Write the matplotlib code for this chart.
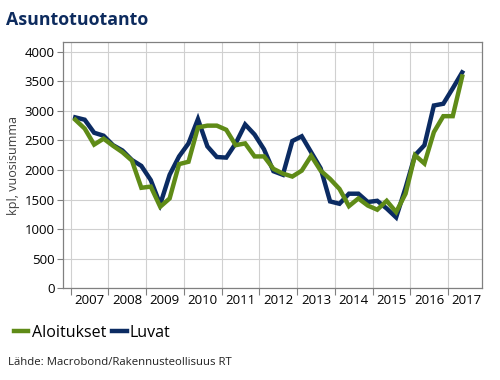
"""
Asuntotuotanto: aloitukset ja luvat, vuosisumma neljännesvuosittain 2007-2017.
"""

import matplotlib.pyplot as plt

# neljännesvuodet 2007Q1 .. 2017Q2
quarters = [f"{y}Q{q}" for y in range(2007, 2018) for q in (1, 2, 3, 4)][:42]

aloitukset = [
    2850, 2700, 2430, 2530, 2410, 2300, 2160, 1700, 1720, 1380,
    1520, 2100, 2140, 2720, 2750, 2750, 2680, 2420, 2450, 2230,
    2230, 2020, 1940, 1890, 1990, 2240, 1990, 1850, 1680, 1390,
    1520, 1400, 1330, 1480, 1290, 1600, 2250, 2110, 2640, 2910,
    2910, 3580,
]
luvat = [
    2890, 2850, 2630, 2580, 2420, 2330, 2170, 2070, 1830, 1420,
    1920, 2230, 2450, 2860, 2400, 2220, 2210, 2450, 2770, 2600,
    2350, 1980, 1920, 2490, 2570, 2300, 2030, 1470, 1430, 1600,
    1600, 1460, 1480, 1350, 1200, 1700, 2250, 2420, 3090, 3120,
    3380, 3650,
]
years = list(range(2007, 2018))
series_labels = ["Aloitukset", "Luvat"]

GREEN = "#5f8b17"
NAVY = "#0b2b62"

plt.rcParams["font.family"] = ["Open Sans", "DejaVu Sans"]


def quarter_pos(q: str) -> float:
    y, n = q.split("Q")
    return int(y) + (int(n) - 1) * 0.25 + 0.125


x = [quarter_pos(q) for q in quarters]

fig = plt.figure(figsize=(5, 3.8), dpi=100)
ax = fig.add_axes([0.126, 0.241, 0.838, 0.648])

ax.plot(x, luvat, color=NAVY, lw=3.2, label=series_labels[1],
        solid_joinstyle="miter")
ax.plot(x, aloitukset, color=GREEN, lw=3.2, label=series_labels[0],
        solid_joinstyle="miter")

ax.set_xlim(2006.8, 2017.9)
ax.set_ylim(0, 4160)
ax.set_yticks(range(0, 4001, 500))
ax.set_xticks(years)
ax.set_xticklabels([])
ax.set_xticks([y + 0.5 for y in years], minor=True)
ax.set_xticklabels([str(y) for y in years], minor=True)
ax.tick_params(axis="x", which="major", length=5, color="#808080", width=0.8)
ax.tick_params(axis="x", which="minor", length=0, pad=4, labelsize=9.5)
ax.tick_params(axis="y", length=4, color="#808080", width=0.8, labelsize=9.5, pad=2)
ax.grid(True, which="major", color="#d0d0d0", lw=0.8)
ax.set_axisbelow(True)
for s in ax.spines.values():
    s.set_color("#808080")
    s.set_linewidth(0.9)

ax.set_ylabel("kpl, vuosisumma", fontsize=9, color="#404040", labelpad=3)

fig.text(0.013, 0.948, "Asuntotuotanto", fontsize=12.8, fontweight="bold",
         color="#0d2b5e", va="center", ha="left")

handles, labels = ax.get_legend_handles_labels()
fig.legend(handles[::-1], labels[::-1], loc="center left",
           bbox_to_anchor=(0.028, 0.124), frameon=False, fontsize=11.5,
           handlelength=0.9, handletextpad=0.2, columnspacing=0.4, ncol=2,
           borderaxespad=0, borderpad=0)

fig.text(0.016, 0.045, "Lähde: Macrobond/Rakennusteollisuus RT", fontsize=8.2,
         color="#202020", va="center", ha="left")

fig.savefig("out.png", dpi=100)
plt.close(fig)
